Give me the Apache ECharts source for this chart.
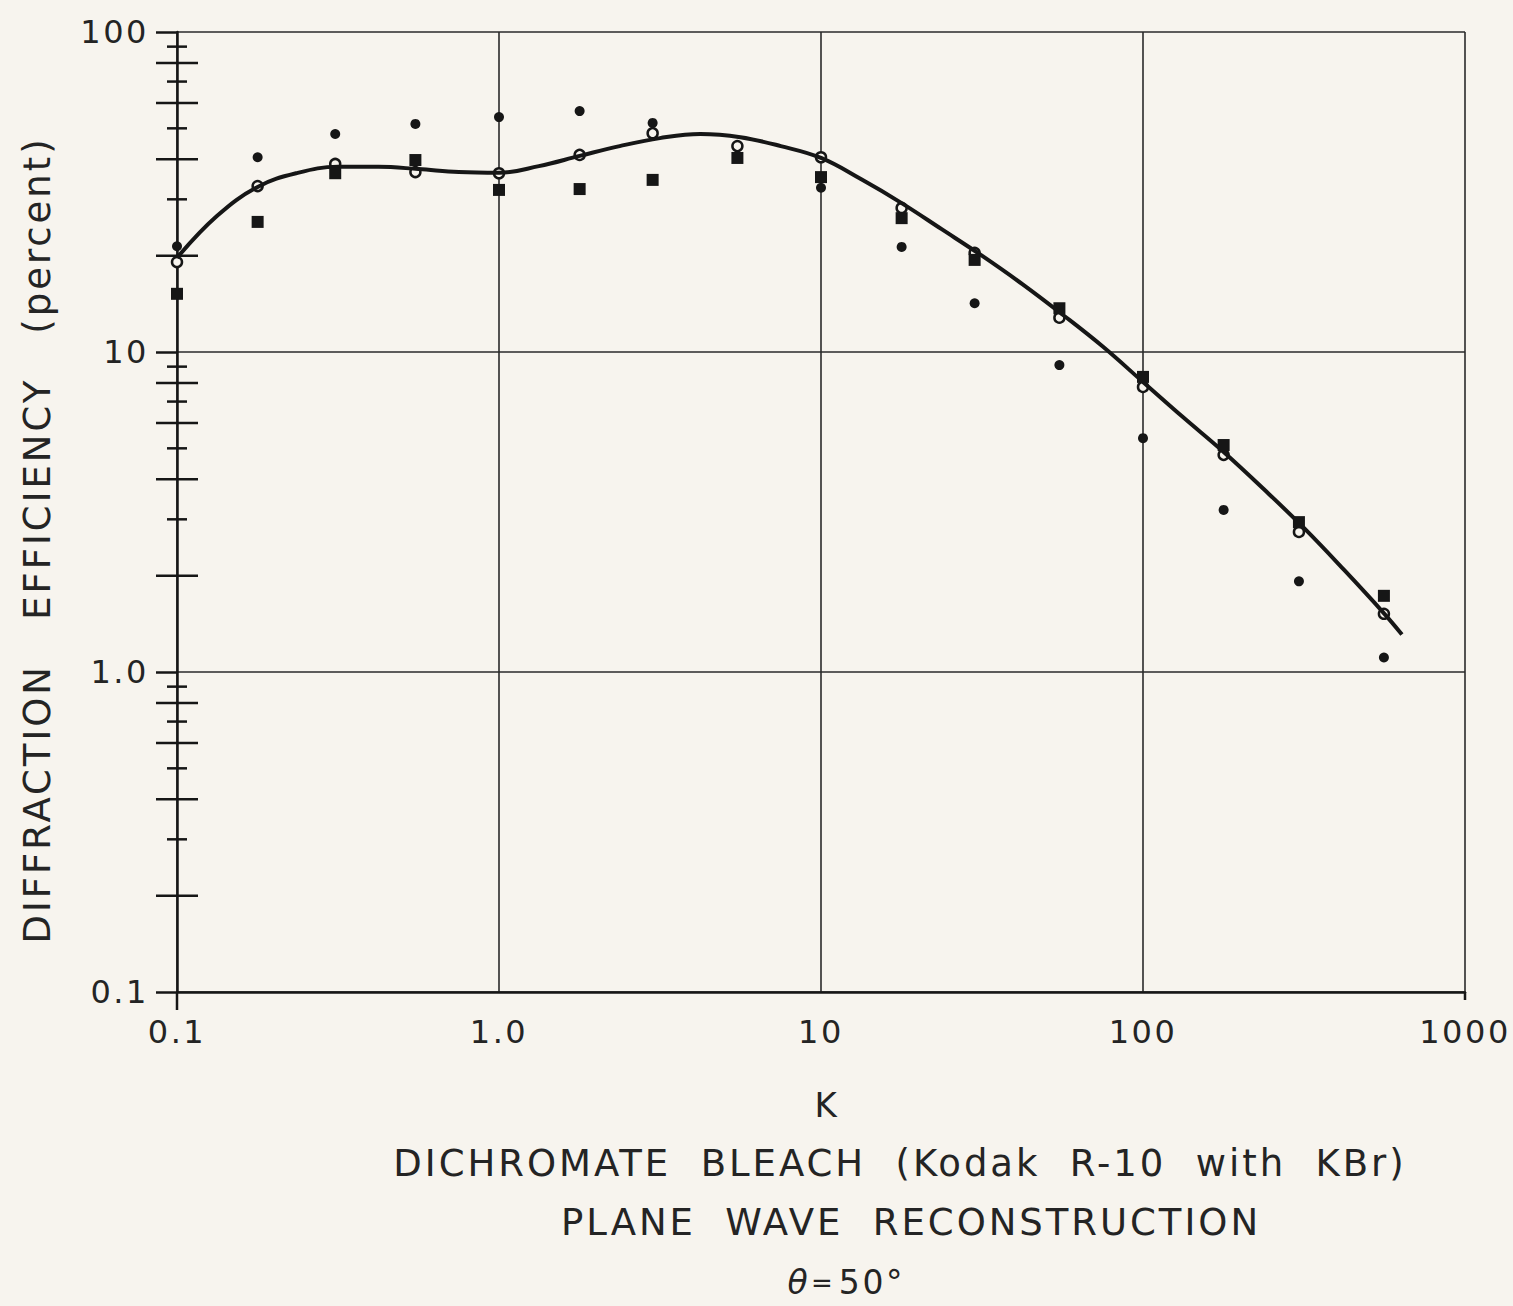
<!DOCTYPE html>
<html>
<head>
<meta charset="utf-8">
<script src="https://cdn.jsdelivr.net/npm/echarts@6/dist/echarts.min.js"></script>
<style>
  html, body { margin: 0; padding: 0; background: #f7f4ee; }
  #chart { width: 1513px; height: 1306px; }
  #chart text { letter-spacing: 0.08em; }
</style>
</head>
<body>
<div id="chart"></div>
<script>
// ---- data ----
const K = [0.1, 0.178, 0.31, 0.55, 1.0, 1.78, 3.0, 5.5, 10, 17.8, 30, 55, 100, 178, 305, 560];
const effDots   = [21.4, 40.6, 48.0, 51.6, 54.2, 56.6, 52.0, 41.0, 32.6, 21.3, 14.2, 9.1, 5.38, 3.21, 1.92, 1.11];
const effOpen   = [19.1, 33.0, 38.7, 36.5, 36.2, 41.3, 48.3, 44.0, 40.6, 28.2, 20.4, 12.8, 7.78, 4.77, 2.74, 1.52];
const effSquare = [15.2, 25.5, 36.2, 39.8, 32.1, 32.3, 34.5, 40.4, 35.2, 26.2, 19.4, 13.7, 8.36, 5.12, 2.94, 1.73];

// fitted curve, read along its length
const curveK   = [0.1, 0.133, 0.178, 0.237, 0.316, 0.422, 0.562, 0.75, 1.0, 1.33, 1.78, 2.37, 3.16, 4.22, 5.62, 7.5,
                  10, 13.3, 17.8, 23.7, 31.6, 42.2, 56.2, 75, 100, 133, 178, 237, 316, 422, 562, 637];
const curveEff = [19.7, 26.6, 32.8, 36.3, 37.9, 37.9, 37.3, 36.5, 36.3, 38.1, 41.0, 44.0, 46.6, 48.0, 46.9, 44.0,
                  40.4, 34.7, 29.2, 24.2, 20.0, 16.3, 13.1, 10.4, 8.06, 6.26, 4.87, 3.73, 2.82, 2.08, 1.52, 1.31];

const xTickLabels = ['0.1', '1.0', '10', '100', '1000'];
const yTickLabels = ['0.1', '1.0', '10', '100'];
const yMinorLong  = [0.2, 0.4, 0.6, 0.8, 2, 4, 6, 8, 20, 40, 60, 80];
const yMinorShort = [0.3, 0.5, 0.7, 0.9, 3, 5, 7, 9, 30, 50, 70, 90];

const xName = 'K';
const captionLines = ['DICHROMATE  BLEACH  (Kodak  R-10  with  KBr)', 'PLANE  WAVE  RECONSTRUCTION'];
const thetaParts = ['θ', '=', '50°'];
const yName = 'DIFFRACTION   EFFICIENCY   (percent)';

// ---- styling ----
const INK = '#161616';
const TXT = '#242424';
const BG = '#f7f4ee';
const FONT = '"DejaVu Sans", sans-serif';

const zip = (a, b) => a.map((v, i) => [v, b[i]]);

function tickRender(halfLen) {
  return function (params, api) {
    const c = api.coord([api.value(0), api.value(1)]);
    return {
      type: 'line',
      shape: { x1: c[0] - halfLen, y1: c[1], x2: c[0] + halfLen, y2: c[1] },
      style: { stroke: INK, lineWidth: 2.5 }
    };
  };
}

function txt(text, x, y, size, extra) {
  return { type: 'text', x: x, y: y, rotation: (extra && extra.rotation) || 0,
    style: Object.assign({ text: text, fill: TXT, font: size + 'px ' + FONT, textAlign: 'center', textVerticalAlign: 'middle' },
      (extra && extra.style) || {}) };
}

const chart = echarts.init(document.getElementById('chart'), null, { renderer: 'svg' });

const option = {
  backgroundColor: BG,
  animation: false,
  grid: { left: 177, top: 32, right: 48, bottom: 314, containLabel: false },
  xAxis: {
    type: 'log', logBase: 10, min: 0.1, max: 1000,
    axisLine: { show: true, lineStyle: { color: INK, width: 2.5 } },
    axisTick: { show: false },
    splitLine: { show: true, lineStyle: { color: '#2a2a2a', width: 1.6 } },
    axisLabel: {
      margin: 24, color: TXT, fontFamily: FONT, fontSize: 32,
      formatter: v => xTickLabels[Math.round(Math.log10(v)) + 1]
    }
  },
  yAxis: {
    type: 'log', logBase: 10, min: 0.1, max: 100,
    axisLine: { show: true, lineStyle: { color: INK, width: 2.5 } },
    axisTick: { show: true, length: 21, lineStyle: { color: INK, width: 2.5 } },
    splitLine: { show: true, lineStyle: { color: '#2a2a2a', width: 1.6 } },
    axisLabel: {
      margin: 28, color: TXT, fontFamily: FONT, fontSize: 32,
      formatter: v => yTickLabels[Math.round(Math.log10(v)) + 1]
    }
  },
  graphic: [
    txt(xName, 827, 1105, 34),
    txt(captionLines[0], 900, 1163, 37),
    txt(captionLines[1], 911, 1222, 37),
    txt(thetaParts[0], 799, 1282, 33, { style: { font: 'italic 33px ' + FONT } }),
    txt(thetaParts[1], 823, 1283, 26),
    txt(thetaParts[2], 872, 1282, 33),
    txt(yName, 37, 540, 37, { rotation: Math.PI / 2 })
  ],
  series: [
    { type: 'custom', name: 'minorLong', renderItem: tickRender(21), data: yMinorLong.map(v => [0.1, v]), z: 5, silent: true },
    { type: 'custom', name: 'minorShort', renderItem: tickRender(10), data: yMinorShort.map(v => [0.1, v]), z: 5, silent: true },
    {
      type: 'custom', name: 'axisExt', silent: true, z: 5,
      data: [[0.1, 0.1, 18], [1000, 0.1, 8]],
      renderItem: function (params, api) {
        const c = api.coord([api.value(0), api.value(1)]);
        return { type: 'line', shape: { x1: c[0], y1: c[1], x2: c[0], y2: c[1] + api.value(2) }, style: { stroke: INK, lineWidth: 2.5 } };
      }
    },
    {
      type: 'scatter', name: 'open', data: zip(K, effOpen), symbol: 'circle', symbolSize: 10, z: 6,
      itemStyle: { color: BG, borderColor: INK, borderWidth: 2.5, opacity: 1 }
    },
    {
      type: 'line', name: 'fit', data: zip(curveK, curveEff), showSymbol: false, symbol: 'none', smooth: 0.4, z: 7,
      lineStyle: { color: INK, width: 4 }
    },
    {
      type: 'scatter', name: 'dots', data: zip(K, effDots), symbol: 'circle', symbolSize: 10, z: 8,
      itemStyle: { color: INK, opacity: 1 }
    },
    {
      type: 'scatter', name: 'squares', data: zip(K, effSquare), symbol: 'rect', symbolSize: 12, z: 8,
      itemStyle: { color: INK, opacity: 1 }
    }
  ]
};
chart.setOption(option);
</script>
</body>
</html>
